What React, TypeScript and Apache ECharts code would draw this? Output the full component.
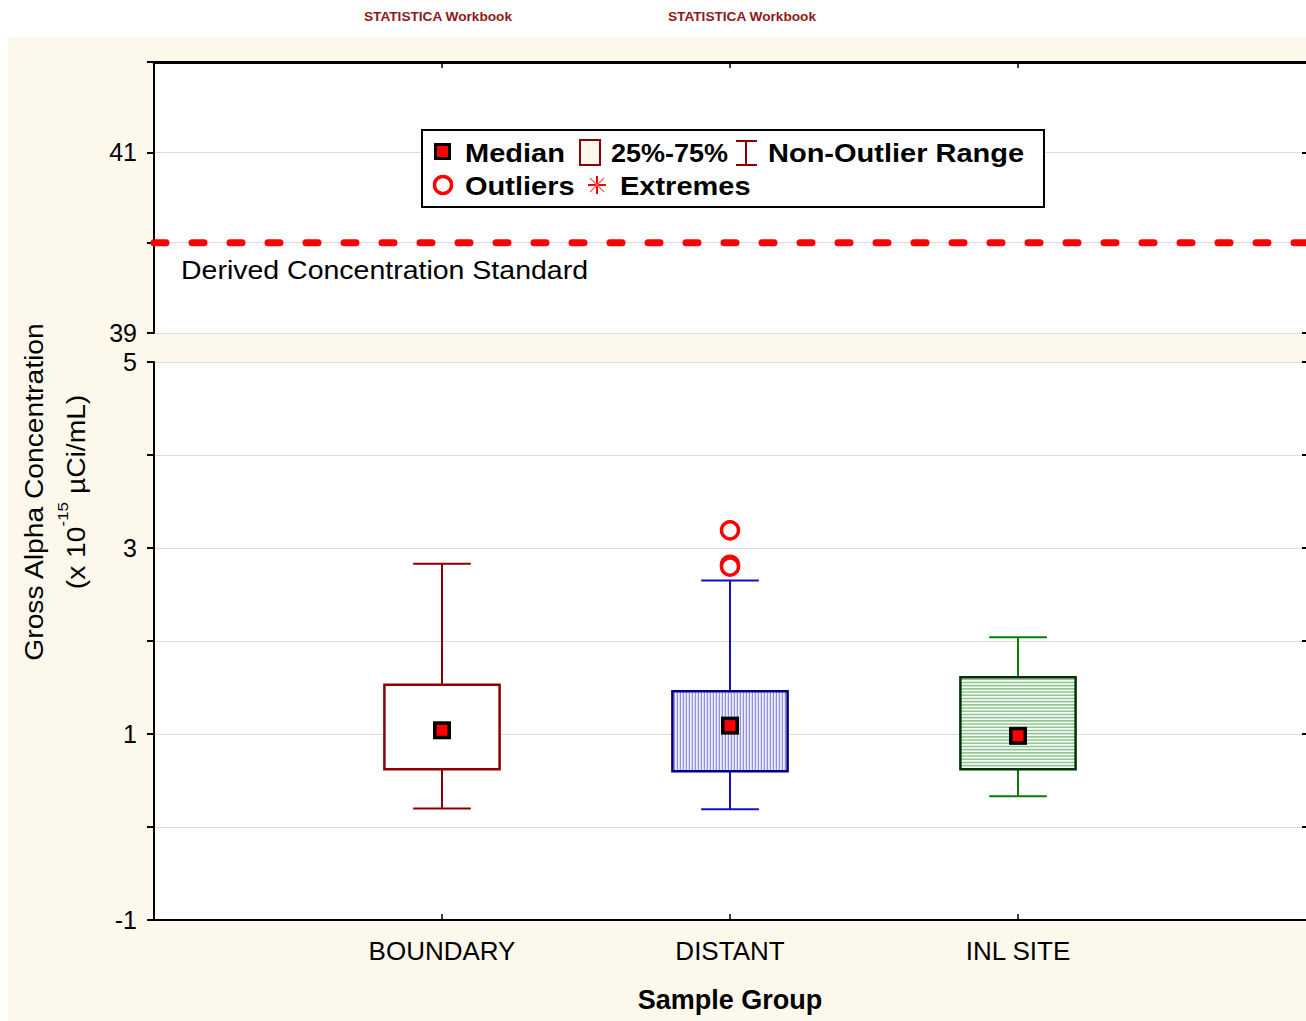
import React, { useEffect, useRef } from "react";
import * as echarts from "echarts";

// Sample groups and their box-plot statistics (x 10^-15 µCi/mL)
const groups = ["BOUNDARY", "DISTANT", "INL SITE"];
const whiskerLow = [0.2, 0.19, 0.33];
const quartile1 = [0.62, 0.6, 0.62];
const medians = [1.04, 1.09, 0.98];
const quartile3 = [1.53, 1.46, 1.61];
const whiskerHigh = [2.83, 2.65, 2.04];

// Outlying samples
const outlierGroup = ["DISTANT", "DISTANT", "DISTANT"];
const outlierValues = [3.19, 2.82, 2.8];

// Regulatory reference level
const derivedStandard = 40;

// Axis ranges and labelled ticks of the broken value axis
const upperRange = [39, 42];
const lowerRange = [-1, 5];
const upperTickLabels = [39, 41];
const lowerTickLabels = [-1, 1, 3, 5];

const FONT = "'Liberation Sans', Arial, sans-serif";
const CREAM = "#fdf8ec";

// Per-group drawing styles
const groupStyles = [
  { border: "#8b0000", whisker: "#8b0000", hatch: "none", hatchColor: "" },
  { border: "#000080", whisker: "#1010c8", hatch: "vertical", hatchColor: "#8f8fe6" },
  { border: "#003300", whisker: "#008000", hatch: "horizontal", hatchColor: "#8fc88f" },
];

export default function App() {
  const ref = useRef<HTMLDivElement>(null);

  useEffect(() => {
    if (!ref.current) return;
    const chart = echarts.init(ref.current, undefined, { renderer: "svg" });

    // category slots: empty edge slots so groups sit at 1/4, 2/4, 3/4 of the width
    const axisCats = ["", ...groups, ""];
    const inner = (index: number) => index >= 1 && index <= groups.length;

    const boxData = groups.map((_, i) => [
      i + 1,
      whiskerLow[i],
      quartile1[i],
      medians[i],
      quartile3[i],
      whiskerHigh[i],
      i,
    ]);
    const outlierData = outlierValues.map((v, i) => [groups.indexOf(outlierGroup[i]) + 1, v]);

    const renderBox = (params: any, api: any) => {
      const x = api.value(0);
      const gi = api.value(6);
      const st = groupStyles[gi];
      const unit = api.size([1, 0])[0];
      const half = unit * 0.2;
      const capHalf = unit * 0.1;
      const pLow = api.coord([x, api.value(1)]);
      const pQ1 = api.coord([x, api.value(2)]);
      const pMed = api.coord([x, api.value(3)]);
      const pQ3 = api.coord([x, api.value(4)]);
      const pHigh = api.coord([x, api.value(5)]);
      const cx = pMed[0];
      const left = cx - half;
      const right = cx + half;
      const top = pQ3[1];
      const bottom = pQ1[1];
      const children: any[] = [];
      const wStyle = { stroke: st.whisker, lineWidth: 2 };
      // whiskers and caps
      children.push({ type: "line", shape: { x1: cx, y1: pHigh[1], x2: cx, y2: top }, style: wStyle });
      children.push({ type: "line", shape: { x1: cx, y1: bottom, x2: cx, y2: pLow[1] }, style: wStyle });
      children.push({ type: "line", shape: { x1: cx - capHalf, y1: pHigh[1], x2: cx + capHalf, y2: pHigh[1] }, style: wStyle });
      children.push({ type: "line", shape: { x1: cx - capHalf, y1: pLow[1], x2: cx + capHalf, y2: pLow[1] }, style: wStyle });
      // box fill
      children.push({
        type: "rect",
        shape: { x: left, y: top, width: right - left, height: bottom - top },
        style: { fill: "#ffffff" },
      });
      // hatching
      if (st.hatch === "vertical") {
        for (let hx = left + 2; hx < right - 1; hx += 3) {
          children.push({
            type: "line",
            shape: { x1: hx, y1: top, x2: hx, y2: bottom },
            style: { stroke: st.hatchColor, lineWidth: 1.5 },
          });
        }
      } else if (st.hatch === "horizontal") {
        for (let hy = top + 2; hy < bottom - 1; hy += 3.2) {
          children.push({
            type: "line",
            shape: { x1: left, y1: hy, x2: right, y2: hy },
            style: { stroke: st.hatchColor, lineWidth: 1.6 },
          });
        }
      }
      // box outline
      children.push({
        type: "rect",
        shape: { x: left, y: top, width: right - left, height: bottom - top },
        style: { fill: "none", stroke: st.border, lineWidth: 2.5 },
      });
      // median marker
      children.push({
        type: "rect",
        shape: { x: cx - 9, y: pMed[1] - 9, width: 18, height: 18 },
        style: { fill: "#000000" },
      });
      children.push({
        type: "rect",
        shape: { x: cx - 5.5, y: pMed[1] - 5.5, width: 11, height: 11 },
        style: { fill: "#ff0000" },
      });
      return { type: "group", children };
    };

    const LZ = 50;
    const legendText = (text: string, x: number, y: number, scaleX = 1.16) => ({
      type: "text",
      x,
      y,
      z: LZ + 1,
      scaleX,
      style: {
        text,
        fontFamily: FONT,
        fontSize: 25,
        fontWeight: "bold",
        fill: "#000",
        align: "left",
        verticalAlign: "middle",
      },
    });

    const starCx = 597;
    const starCy = 185;

    const option: any = {
      animation: false,
      backgroundColor: "#ffffff",
      textStyle: { fontFamily: FONT },
      grid: [
        { left: 154, top: 62, right: -4, height: 271, show: true, backgroundColor: "#ffffff", borderWidth: 0 },
        { left: 154, top: 362, right: -4, height: 558, show: true, backgroundColor: "#ffffff", borderWidth: 0 },
      ],
      xAxis: [
        {
          gridIndex: 0,
          type: "category",
          data: axisCats,
          boundaryGap: false,
          position: "top",
          axisLine: { onZero: false, lineStyle: { color: "#000", width: 3 } },
          axisTick: { inside: true, length: 6, interval: inner, lineStyle: { color: "#000", width: 1.5 } },
          axisLabel: { show: false },
          splitLine: { show: false },
        },
        {
          gridIndex: 1,
          type: "category",
          data: axisCats,
          boundaryGap: false,
          position: "bottom",
          axisLine: { onZero: false, lineStyle: { color: "#000", width: 2 } },
          axisTick: { inside: true, length: 6, interval: inner, lineStyle: { color: "#000", width: 1.5 } },
          axisLabel: { interval: inner, fontSize: 26, color: "#000", margin: 18, fontFamily: FONT },
          splitLine: { show: false },
          name: "Sample Group",
          nameLocation: "middle",
          nameGap: 66,
          nameTextStyle: { fontSize: 27, fontWeight: "bold", color: "#000", fontFamily: FONT },
        },
      ],
      yAxis: [
        {
          gridIndex: 0,
          type: "value",
          min: upperRange[0],
          max: upperRange[1],
          interval: 1,
          axisLine: { show: true, onZero: false, lineStyle: { color: "#000", width: 2 } },
          axisTick: { show: true, length: 7, lineStyle: { color: "#000", width: 2 } },
          axisLabel: {
            fontSize: 25,
            color: "#000",
            margin: 17,
            fontFamily: FONT,
            formatter: (v: number) => (upperTickLabels.includes(v) ? String(v) : ""),
          },
          splitLine: { show: true, lineStyle: { color: "#dedede", width: 1 } },
        },
        {
          gridIndex: 1,
          type: "value",
          min: lowerRange[0],
          max: lowerRange[1],
          interval: 1,
          axisLine: { show: true, onZero: false, lineStyle: { color: "#000", width: 2 } },
          axisTick: { show: true, length: 7, lineStyle: { color: "#000", width: 2 } },
          axisLabel: {
            fontSize: 25,
            color: "#000",
            margin: 17,
            fontFamily: FONT,
            formatter: (v: number) => (lowerTickLabels.includes(v) ? String(v) : ""),
          },
          splitLine: { show: true, lineStyle: { color: "#dedede", width: 1 } },
        },
        {
          gridIndex: 0,
          type: "value",
          position: "right",
          min: upperRange[0],
          max: upperRange[1],
          interval: 1,
          axisLine: { show: false },
          axisTick: { show: true, inside: true, length: 4, lineStyle: { color: "#000", width: 2 } },
          axisLabel: { show: false },
          splitLine: { show: false },
        },
        {
          gridIndex: 1,
          type: "value",
          position: "right",
          min: lowerRange[0],
          max: lowerRange[1],
          interval: 1,
          axisLine: { show: false },
          axisTick: { show: true, inside: true, length: 4, lineStyle: { color: "#000", width: 2 } },
          axisLabel: { show: false },
          splitLine: { show: false },
        },
      ],
      series: [
        {
          type: "line",
          xAxisIndex: 0,
          yAxisIndex: 0,
          data: [
            [0, derivedStandard],
            [axisCats.length - 1, derivedStandard],
          ],
          symbol: "none",
          silent: true,
          z: 5,
          lineStyle: { color: "#ff0000", width: 7, type: [12, 26], cap: "round", dashOffset: 0 },
        },
        {
          type: "custom",
          xAxisIndex: 1,
          yAxisIndex: 1,
          data: boxData,
          encode: { x: 0, y: [1, 2, 3, 4, 5] },
          renderItem: renderBox,
          z: 3,
        },
        {
          type: "scatter",
          xAxisIndex: 1,
          yAxisIndex: 1,
          data: outlierData,
          symbol: "circle",
          symbolSize: 17,
          z: 4,
          itemStyle: { color: "#ffffff", borderColor: "#ff0000", borderWidth: 3.5, opacity: 1 },
        },
      ],
      graphic: [
        // cream page frame behind the plot areas
        {
          type: "rect",
          z: -10,
          silent: true,
          shape: { x: 8, y: 38, width: 1310, height: 1000 },
          style: { fill: CREAM },
        },
        {
          type: "text",
          x: 438,
          y: 17,
          scaleX: 1.05,
          style: {
            text: "STATISTICA Workbook",
            fontFamily: FONT,
            fontSize: 13,
            fontWeight: "bold",
            fill: "#8b1a1a",
            align: "center",
            verticalAlign: "middle",
          },
        },
        {
          type: "text",
          x: 742,
          y: 17,
          scaleX: 1.05,
          style: {
            text: "STATISTICA Workbook",
            fontFamily: FONT,
            fontSize: 13,
            fontWeight: "bold",
            fill: "#8b1a1a",
            align: "center",
            verticalAlign: "middle",
          },
        },
        // y-axis title, rotated to read bottom-to-top
        {
          type: "group",
          x: 35,
          y: 492,
          rotation: Math.PI / 2,
          children: [
            {
              type: "text",
              x: 0,
              y: 0,
              scaleX: 1.13,
              style: {
                text: "Gross Alpha Concentration",
                fontFamily: FONT,
                fontSize: 25,
                fill: "#000",
                align: "center",
                verticalAlign: "middle",
              },
            },
            {
              type: "text",
              x: 0,
              y: 37,
              scaleX: 1.13,
              style: {
                text: "{a|(x 10}{s|-15}{a| µCi/mL)}",
                fontFamily: FONT,
                fill: "#000",
                align: "center",
                verticalAlign: "middle",
                rich: {
                  a: { fontFamily: FONT, fontSize: 25, lineHeight: 34, fill: "#000", verticalAlign: "bottom" },
                  s: { fontFamily: FONT, fontSize: 15, lineHeight: 18, fill: "#000", verticalAlign: "top" },
                },
              },
            },
          ],
        },
        {
          type: "text",
          x: 181,
          y: 271,
          scaleX: 1.14,
          z: 10,
          style: {
            text: "Derived Concentration Standard",
            fontFamily: FONT,
            fontSize: 25,
            fill: "#000",
            align: "left",
            verticalAlign: "middle",
          },
        },
        // legend box
        {
          type: "rect",
          z: LZ,
          shape: { x: 422, y: 130, width: 622, height: 77 },
          style: { fill: "#ffffff", stroke: "#000", lineWidth: 2 },
        },
        { type: "rect", z: LZ + 1, shape: { x: 434, y: 143, width: 17, height: 17 }, style: { fill: "#000" } },
        { type: "rect", z: LZ + 2, shape: { x: 437, y: 146, width: 11, height: 11 }, style: { fill: "#ff0000" } },
        legendText("Median", 465, 153),
        {
          type: "rect",
          z: LZ + 1,
          shape: { x: 580, y: 140, width: 20, height: 25 },
          style: { fill: CREAM, stroke: "#8b0000", lineWidth: 2 },
        },
        legendText("25%-75%", 611, 153, 1.08),
        { type: "line", z: LZ + 1, shape: { x1: 746, y1: 141, x2: 746, y2: 165 }, style: { stroke: "#8b0000", lineWidth: 2 } },
        { type: "line", z: LZ + 1, shape: { x1: 736, y1: 141, x2: 757, y2: 141 }, style: { stroke: "#8b0000", lineWidth: 2 } },
        { type: "line", z: LZ + 1, shape: { x1: 736, y1: 165, x2: 757, y2: 165 }, style: { stroke: "#8b0000", lineWidth: 2 } },
        legendText("Non-Outlier Range", 768, 153),
        {
          type: "circle",
          z: LZ + 1,
          shape: { cx: 443, cy: 185, r: 8.5 },
          style: { fill: "#fff", stroke: "#ff0000", lineWidth: 3.5 },
        },
        legendText("Outliers", 465, 186),
        { type: "line", z: LZ + 1, shape: { x1: starCx, y1: starCy - 9, x2: starCx, y2: starCy + 9 }, style: { stroke: "#ff0000", lineWidth: 2 } },
        { type: "line", z: LZ + 1, shape: { x1: starCx - 9, y1: starCy, x2: starCx + 9, y2: starCy }, style: { stroke: "#ff0000", lineWidth: 2 } },
        { type: "line", z: LZ + 1, shape: { x1: starCx - 7, y1: starCy - 7, x2: starCx + 7, y2: starCy + 7 }, style: { stroke: "#ff6060", lineWidth: 1.2 } },
        { type: "line", z: LZ + 1, shape: { x1: starCx - 7, y1: starCy + 7, x2: starCx + 7, y2: starCy - 7 }, style: { stroke: "#ff6060", lineWidth: 1.2 } },
        legendText("Extremes", 620, 186),
      ],
    };

    chart.setOption(option);
    return () => chart.dispose();
  }, []);

  return (
    <div
      ref={ref}
      style={{ position: "absolute", left: 0, top: 0, width: 1306, height: 1021 }}
    />
  );
}
